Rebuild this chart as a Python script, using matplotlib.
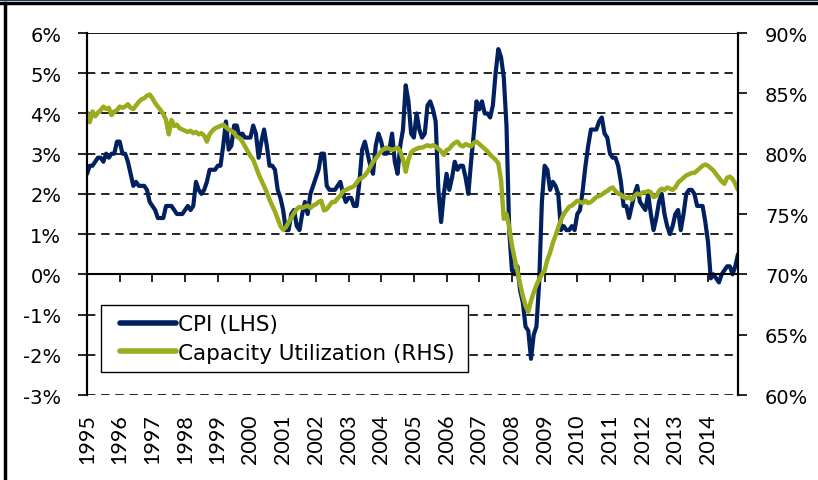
import matplotlib.pyplot as plt
from matplotlib.lines import Line2D
from matplotlib.legend_handler import HandlerLine2D

# monthly data, Dec 1995 .. Nov 2015 (240 points)
cpi = [2.5,
       2.7, 2.7, 2.8, 2.9, 2.9, 2.8, 3.0, 2.9, 3.0, 3.0, 3.3, 3.3,
       3.0, 3.0, 2.8, 2.5, 2.2, 2.3, 2.2, 2.2, 2.2, 2.1, 1.8, 1.7,
       1.6, 1.4, 1.4, 1.4, 1.7, 1.7, 1.7, 1.6, 1.5, 1.5, 1.5, 1.6,
       1.7, 1.6, 1.7, 2.3, 2.1, 2.0, 2.1, 2.3, 2.6, 2.6, 2.6, 2.7,
       2.7, 3.2, 3.8, 3.1, 3.2, 3.7, 3.7, 3.4, 3.5, 3.4, 3.4, 3.4,
       3.7, 3.5, 2.9, 3.3, 3.6, 3.2, 2.7, 2.7, 2.6, 2.1, 1.9, 1.6,
       1.1, 1.1, 1.5, 1.6, 1.2, 1.1, 1.5, 1.8, 1.5, 2.0, 2.2, 2.4,
       2.6, 3.0, 3.0, 2.2, 2.1, 2.1, 2.1, 2.2, 2.3, 2.0, 1.8, 1.9,
       1.9, 1.7, 1.7, 2.3, 3.1, 3.3, 3.0, 2.7, 2.5, 3.2, 3.5, 3.3,
       3.0, 3.0, 3.1, 3.5, 2.8, 2.5, 3.2, 3.6, 4.7, 4.3, 3.5, 3.4,
       4.0, 3.6, 3.4, 3.5, 4.2, 4.3, 4.1, 3.8, 2.1, 1.3, 2.0, 2.5,
       2.1, 2.4, 2.8, 2.6, 2.7, 2.7, 2.4, 2.0, 2.8, 3.5, 4.3, 4.1,
       4.3, 4.0, 4.0, 3.9, 4.2, 5.0, 5.6, 5.4, 4.9, 3.7, 1.1, 0.1,
       0.0, 0.2, -0.4, -0.7, -1.3, -1.4, -2.1, -1.5, -1.3, -0.2, 1.8, 2.7,
       2.6, 2.1, 2.3, 2.2, 2.0, 1.1, 1.2, 1.1, 1.1, 1.2, 1.1, 1.5,
       1.6, 2.1, 2.7, 3.2, 3.6, 3.6, 3.6, 3.8, 3.9, 3.5, 3.4, 3.0,
       2.9, 2.9, 2.7, 2.3, 1.7, 1.7, 1.4, 1.7, 2.0, 2.2, 1.8, 1.7,
       1.6, 2.0, 1.5, 1.1, 1.4, 1.8, 2.0, 1.5, 1.2, 1.0, 1.2, 1.5,
       1.6, 1.1, 1.5, 2.0, 2.1, 2.1, 2.0, 1.7, 1.7, 1.7, 1.3, 0.8,
       -0.1, 0.0, -0.1, -0.2, 0.0, 0.1, 0.2, 0.2, 0.0, 0.2, 0.5]

cap_util = [83.4,
            82.6, 83.5, 83.1, 83.4, 83.6, 83.9, 83.7, 83.8, 83.2, 83.5, 83.6, 83.9,
            83.8, 83.9, 84.1, 83.8, 83.7, 84.0, 84.3, 84.5, 84.6, 84.8, 84.9, 84.6,
            84.2, 83.9, 83.6, 83.3, 82.8, 81.6, 82.8, 82.3, 82.4, 82.1, 82.0, 81.9,
            81.8, 81.9, 81.7, 81.8, 81.6, 81.7, 81.5, 81.0, 81.6, 81.9, 82.1, 82.2,
            82.3, 82.4, 82.2, 82.0, 81.9, 81.7, 81.4, 81.3, 81.0, 80.6, 80.2, 79.8,
            79.5, 78.9, 78.3, 77.8, 77.3, 76.8, 76.2, 75.7, 75.2, 74.6, 74.0, 73.7,
            73.9, 74.3, 74.7, 75.1, 75.4, 75.6, 75.5, 75.6, 75.7, 75.5, 75.7, 75.8,
            76.0, 76.1, 75.3, 75.4, 75.7, 76.0, 76.0, 76.3, 76.5, 76.9, 77.0, 77.1,
            77.2, 77.3, 77.6, 77.9, 78.0, 78.2, 78.5, 78.9, 79.3, 79.6, 79.9, 80.2,
            80.4, 80.5, 80.4, 80.3, 80.4, 80.5, 80.2, 79.5, 78.5, 79.5, 80.1, 80.3,
            80.4, 80.5, 80.5, 80.6, 80.7, 80.6, 80.7, 80.6, 80.4, 80.2, 79.9, 80.3,
            80.4, 80.7, 80.9, 81.0, 80.7, 80.6, 80.8, 80.7, 80.6, 80.9, 81.0, 80.8,
            80.6, 80.4, 80.2, 79.9, 79.7, 79.5, 79.2, 77.8, 74.6, 75.0, 73.9, 72.4,
            71.3, 70.3, 69.2, 68.2, 67.4, 66.9, 67.8, 68.5, 69.1, 69.6, 70.0, 70.3,
            71.2, 71.8, 72.6, 73.2, 73.9, 74.5, 75.0, 75.3, 75.6, 75.7, 75.9, 76.1,
            76.0, 75.9, 76.1, 75.9, 76.0, 76.2, 76.4, 76.5, 76.6, 76.8, 76.9, 77.1,
            77.2, 76.9, 76.7, 76.6, 76.4, 76.3, 76.4, 76.2, 76.5, 76.7, 76.6, 76.8,
            76.8, 76.9, 76.8, 76.4, 76.5, 76.9, 77.1, 77.0, 77.2, 77.1, 77.0, 77.2,
            77.6, 77.8, 78.0, 78.2, 78.3, 78.4, 78.4, 78.6, 78.8, 79.0, 79.1, 79.0,
            78.8, 78.6, 78.3, 78.0, 77.7, 77.5, 78.0, 78.1, 77.9, 77.5, 77.0]

year_labels = [str(y) for y in range(1995, 2015)]

navy = '#002060'
olive = '#9AAB1E'
tick_fs = 14
leg_fs = 15.5
year_fs = 15.5

plt.rcParams['font.family'] = 'DejaVu Sans'

fig = plt.figure(figsize=(8.18, 4.81), dpi=100)
ax = fig.add_axes([0.1064, 0.1767, 0.7958, 0.7526])
ax2 = ax.twinx()

x = list(range(len(cpi)))
l1, = ax.plot(x, cpi, color=navy, lw=3.0, solid_capstyle='round', solid_joinstyle='round')
l2, = ax2.plot(x, cap_util, color=olive, lw=3.2, solid_capstyle='round', solid_joinstyle='round')

ax.set_xlim(0, len(cpi) - 1)
ax.set_ylim(-3, 6)
ax2.set_ylim(60, 90)

# dashed gridlines
for v in [-3, -2, -1, 1, 2, 3, 4, 5]:
    ax.axhline(v, color='black', lw=1.2, ls=(0, (5, 3.5)), zorder=0)
ax.axhline(6, color='black', lw=1.3, zorder=0)

ax.set_yticks(range(-3, 7))
ax.set_yticklabels([f'{v}%' for v in range(-3, 7)])
ax2.set_yticks(range(60, 91, 5))
ax2.set_yticklabels([f'{v}%' for v in range(60, 91, 5)])

ax.spines['top'].set_visible(False)
ax2.spines['top'].set_visible(False)
ax2.spines['bottom'].set_visible(False)
ax.spines['bottom'].set_position(('data', 0))
for a in (ax, ax2):
    for s in ['left', 'right']:
        a.spines[s].set_linewidth(1.5)
ax.spines['bottom'].set_linewidth(1.5)

ax.tick_params(axis='y', direction='out', length=6.5, width=1.2, pad=12, labelsize=tick_fs)
ax2.tick_params(axis='y', direction='out', length=6.5, width=1.2, pad=13, labelsize=tick_fs)

ticks = list(range(0, len(cpi), 12))
ax.set_xticks(ticks)
ax.tick_params(axis='x', direction='out', length=5.5, width=1.2, labelbottom=False)
for t, lab in zip(ticks, year_labels):
    ax.text(t, -0.05, lab, transform=ax.get_xaxis_transform(), rotation=90,
            ha='center', va='top', fontsize=year_fs, family='Lato')

leg = ax2.legend([l1, l2], ['CPI (LHS)', 'Capacity Utilization (RHS)'],
                 loc='lower left', bbox_to_anchor=(0.0215, 0.0635, 0.564, 0.193),
                 mode='expand', fontsize=leg_fs, frameon=True, fancybox=False,
                 handlelength=3.07, handletextpad=0.1, borderaxespad=0,
                 labelspacing=0.4, borderpad=0.42,
                 handler_map={Line2D: HandlerLine2D(xpad=0.47)})
leg.get_frame().set_edgecolor('black')
leg.get_frame().set_linewidth(1.0)
leg.get_frame().set_alpha(1)
for h in leg.legend_handles:
    h.set_linewidth(4.0)

# outer frame pieces
fig.add_artist(Line2D([0, 1], [0.998, 0.998], color='#1F3A6E', lw=1.5, transform=fig.transFigure))
fig.add_artist(Line2D([0, 1], [0.992, 0.992], color='black', lw=2.5, transform=fig.transFigure))
fig.add_artist(Line2D([0.006, 0.006], [0, 0.992], color='black', lw=2.5, transform=fig.transFigure))

fig.savefig('out.png', dpi=100)
